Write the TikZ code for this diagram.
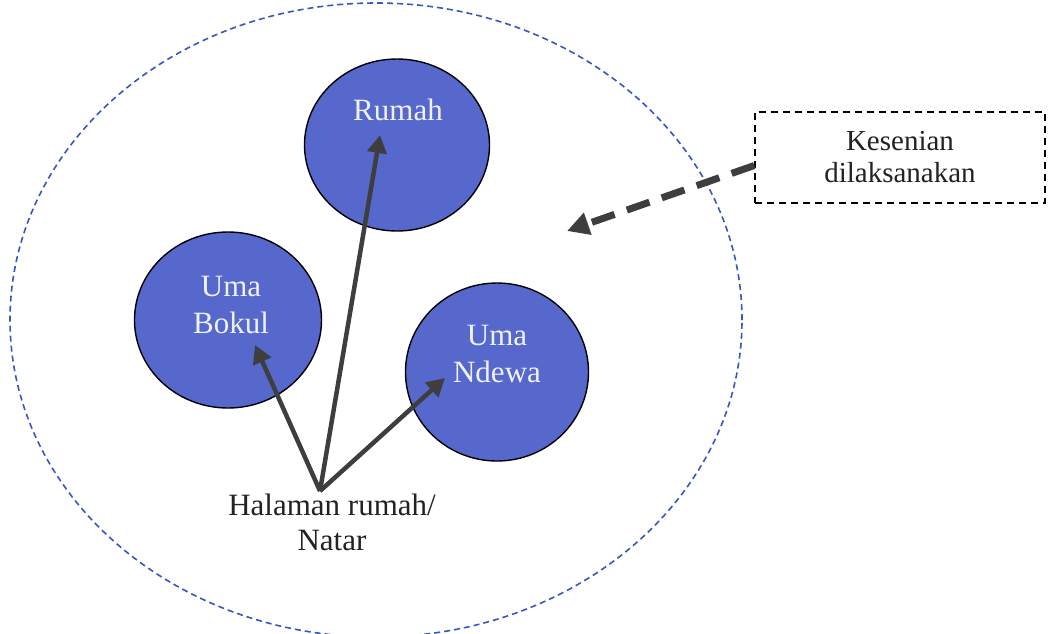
\documentclass[tikz,border=0pt]{standalone}
\usepackage{fontspec}
\setmainfont{Liberation Serif}
\usetikzlibrary{shapes.geometric,arrows.meta,calc}

\definecolor{hutfill}{RGB}{86,104,204}
\definecolor{hutink}{RGB}{238,241,250}
\definecolor{yardblue}{RGB}{52,88,190}
\definecolor{arrowgray}{RGB}{62,62,62}
\definecolor{inkgray}{RGB}{34,34,34}

\tikzset{
  yard/.style={draw=yardblue, line width=1.6pt, dash pattern=on 6pt off 4pt,
    ellipse, inner sep=0pt},
  hut/.style={draw=black, line width=1.4pt, fill=hutfill, ellipse, inner sep=0pt},
  hutlabel/.style={text=hutink, align=center, inner sep=0pt,
    font=\fontsize{31}{37}\selectfont},
  plainlabel/.style={text=inkgray, align=center, inner sep=0pt,
    font=\fontsize{31}{35}\selectfont},
  notebox/.style={draw=black, line width=1.5pt, dash pattern=on 7pt off 5pt,
    minimum width=290pt, minimum height=91pt, inner sep=0pt, align=center,
    text=inkgray, font=\fontsize{29}{32}\selectfont},
  spoke/.style={draw=arrowgray, line width=4.5pt,
    -{Triangle[length=18pt,width=19pt]}},
  cue/.style={draw=arrowgray, line width=7pt, dash pattern=on 24pt off 13pt,
    -{Triangle[length=22pt,width=22pt]}}
}

\begin{document}
\begin{tikzpicture}[x=1pt,y=-1pt]
  \useasboundingbox (0,0) rectangle (1049,633);

  % courtyard boundary
  \node[yard, minimum width=732pt, minimum height=634pt] (yard) at (376,320) {};

  % the three houses
  \node[hut, minimum width=185pt, minimum height=172pt] (rumah) at (397,145) {};
  \node[hut, minimum width=187pt, minimum height=176pt] (bokul) at (228,320) {};
  \node[hut, minimum width=183pt, minimum height=178pt] (ndewa) at (497,372) {};

  \node[hutlabel] (rumahtxt) at (398,110) {Rumah};
  \node[hutlabel] (bokultxt) at (231,305) {Uma\\Bokul};
  \node[hutlabel] (ndewatxt) at (497,354) {Uma\\Ndewa};

  % yard label and the point the paths start from
  \node[plainlabel] (natar) at (332,522) {Halaman rumah/\\Natar};
  \coordinate (apex) at (320,491);

  % arrow ends inside the houses
  \coordinate (rumahend) at ($(rumah.center)+(-17,-10)$);
  \coordinate (bokulend) at ($(bokul.center)+(27,25)$);
  \coordinate (ndewaend) at ($(ndewa.center)+(-52,6)$);

  \draw[spoke] (apex) -- (rumahend);
  \draw[spoke] (apex) -- (bokulend);
  \draw[spoke] (apex) -- (ndewaend);

  % performance note
  \node[notebox] (note) at (900,157.5) {Kesenian\\dilaksanakan};
  \coordinate (cueend) at (567,231);
  \draw[cue] ($(note.west)+(0,8)$) -- (cueend);
\end{tikzpicture}
\end{document}
